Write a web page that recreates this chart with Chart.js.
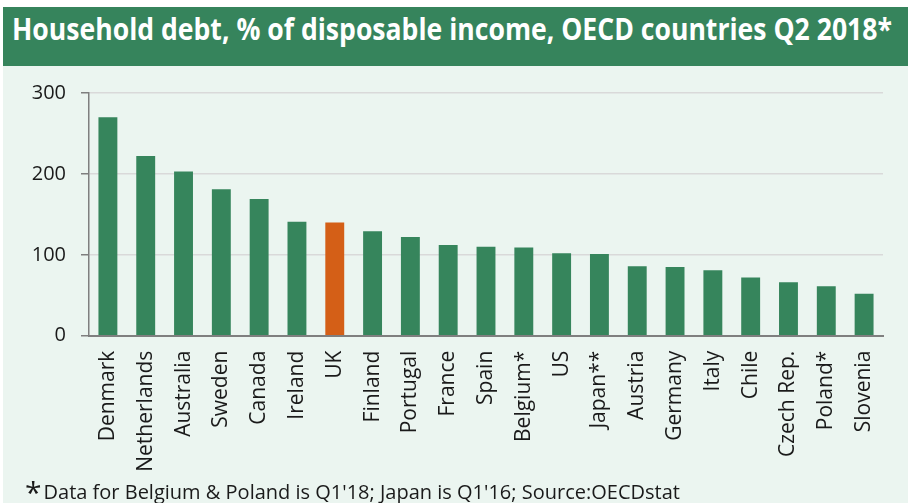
<!DOCTYPE html>
<html>
<head>
<meta charset="utf-8">
<script src="https://cdn.jsdelivr.net/npm/chart.js@4.4.1/dist/chart.umd.min.js"></script>
<style>
  html, body { margin: 0; padding: 0; background: #ffffff; }
  #wrap { position: relative; width: 908px; height: 503px; overflow: hidden; }
  #banner {
    position: absolute; left: 3px; top: 7px; width: 905px; height: 59px;
    background: #36845c;
  }
  #title {
    position: absolute; left: 12px; top: 7px; white-space: nowrap;
    font: bold 31px "Open Sans", sans-serif; color: #ffffff;
    transform-origin: 0 0;
  }
  #panel {
    position: absolute; left: 3px; top: 66px; width: 905px; height: 437px;
    background: #ebf5f0;
  }
  #note {
    position: absolute; left: 25px; top: 471px; white-space: nowrap;
    font: 20px "Open Sans", sans-serif; color: #1a1a1a;
    transform-origin: 0 0;
  }
  #note .star { font-size: 30px; vertical-align: -4px; margin-right: 2px; }
</style>
</head>
<body>
<div id="wrap">
  <div id="banner"></div>
  <div id="title">Household debt, % of disposable income, OECD countries Q2 2018*</div>
  <div id="panel"><canvas id="chart" width="905" height="437"></canvas></div>
  <div id="note"><span class="star">*</span>Data for Belgium &amp; Poland is Q1'18; Japan is Q1'16; Source:OECDstat</div>
</div>
<script>
// household debt as % of disposable income
const countries = ["Denmark", "Netherlands", "Australia", "Sweden", "Canada", "Ireland", "UK",
  "Finland", "Portugal", "France", "Spain", "Belgium*", "US", "Japan**", "Austria",
  "Germany", "Italy", "Chile", "Czech Rep.", "Poland*", "Slovenia"];
const debtPct = [270, 222, 203, 181, 169, 141, 140, 129, 122, 112, 110, 109, 102, 101, 86,
  85, 81, 72, 66, 61, 52];
const yTicks = [0, 100, 200, 300];
const highlight = "UK";

const GREEN = "#36855c";
const ORANGE = "#d45f17";
const AXIS = "#7f7f7f";

// squeeze a line of text to a given pixel width
function fitWidth(id, target) {
  const el = document.getElementById(id);
  const w = el.getBoundingClientRect().width;
  el.style.transform = "scaleX(" + (target / w) + ")";
}
fitWidth("title", 880);

new Chart(document.getElementById("chart"), {
  type: "bar",
  data: {
    labels: countries,
    datasets: [{
      data: debtPct,
      backgroundColor: countries.map(c => c === highlight ? ORANGE : GREEN),
      barPercentage: 0.5,
      categoryPercentage: 1.0
    }]
  },
  options: {
    responsive: false,
    animation: false,
    layout: { padding: { top: 27, right: 25, bottom: 0, left: 0 } },
    plugins: { legend: { display: false }, tooltip: { enabled: false } },
    scales: {
      x: {
        grid: { display: false, drawTicks: false },
        border: { color: AXIS, width: 2 },
        ticks: {
          autoSkip: false, maxRotation: 90, minRotation: 90, padding: 15,
          color: "#1a1a1a", font: { family: "Open Sans", size: 21 }
        },
        afterFit: s => { s.height = 167.3; }
      },
      y: {
        min: 0, max: 300,
        afterBuildTicks: s => { s.ticks = yTicks.map(v => ({ value: v })); },
        grid: { color: "#d9d9d9", lineWidth: 1.5, tickColor: AXIS, tickLength: 8 },
        border: { color: AXIS, width: 1.5 },
        ticks: { padding: 15, color: "#1a1a1a", font: { family: "Open Sans", size: 20 } },
        afterFit: s => { s.width = 86; }
      }
    }
  }
});
</script>
</body>
</html>
